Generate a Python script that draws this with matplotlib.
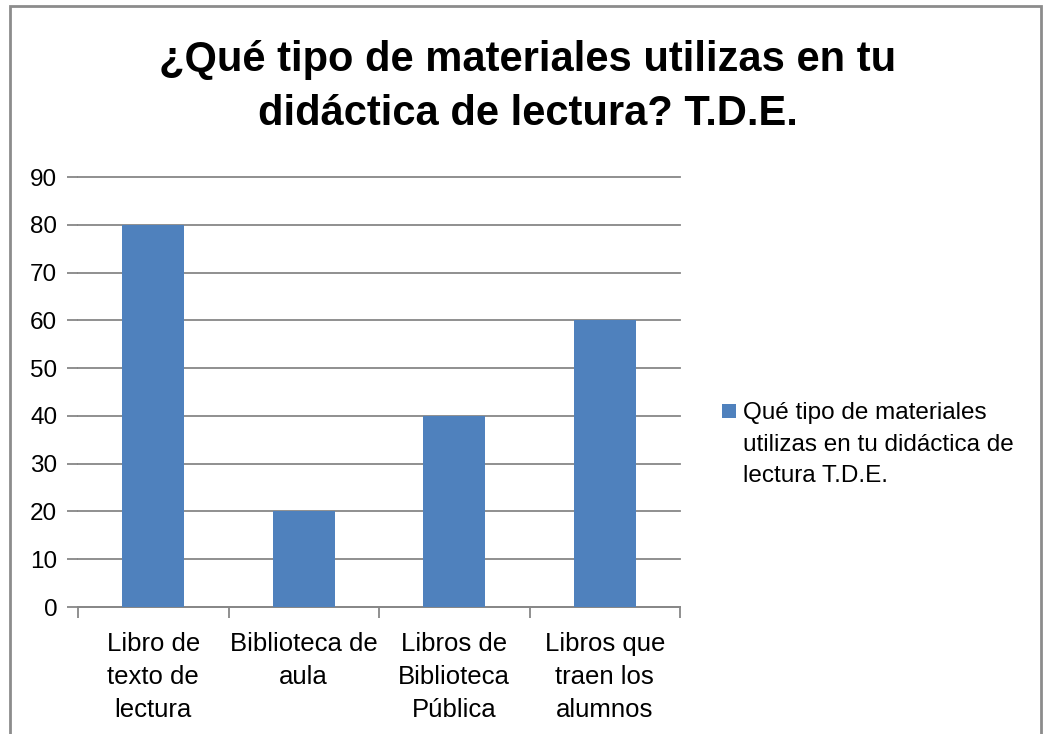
"""Bar chart: materiales usados en la didactica de lectura (T.D.E.)."""
import matplotlib
matplotlib.use("Agg")
import matplotlib.pyplot as plt
from matplotlib.patches import Rectangle

categories = ["Libro de\ntexto de\nlectura", "Biblioteca de\naula",
              "Libros de\nBiblioteca\nPública", "Libros que\ntraen los\nalumnos"]
values = [80, 20, 40, 60]
series_name = "Qué tipo de materiales\nutilizas en tu didáctica de\nlectura T.D.E."
title = "¿Qué tipo de materiales utilizas en tu\ndidáctica de lectura? T.D.E."
yticks = list(range(0, 100, 10))

_BAR, _GRID = "#4f81bd", "#878787"
W, H = 1044, 734

plt.rcParams["font.family"] = ["Liberation Sans", "DejaVu Sans"]

fig = plt.figure(figsize=(W / 100, H / 100), dpi=100, facecolor="white")
ax = fig.add_axes([78 / W, 1 - 607 / H, (680 - 78) / W, (607 - 177) / H])

x = list(range(len(categories)))
ax.bar(x, values, width=0.41, color=_BAR, zorder=3)

ax.set_xlim(-0.5, len(categories) - 0.5)
ax.set_ylim(0, 90)
ax.set_yticks(yticks)
ax.yaxis.grid(True, color=_GRID, linewidth=1.3, zorder=0)
for gl in ax.get_ygridlines():
    gl.set_clip_on(False)
ax.set_axisbelow(True)

for s in ("top", "right", "left"):
    ax.spines[s].set_visible(False)
ax.spines["bottom"].set_color(_GRID)
ax.spines["bottom"].set_linewidth(1.3)

ax.tick_params(axis="y", length=8, width=1.3, color=_GRID, labelsize=17.5, pad=7)
ax.set_xticks(x)
ax.set_xticklabels(categories, fontsize=18.5, linespacing=1.47)
ax.tick_params(axis="x", length=0, pad=18)
ax.set_xticks([i - 0.5 for i in range(len(categories) + 1)], minor=True)
ax.tick_params(axis="x", which="minor", length=8, width=1.3, color=_GRID)

fig.text(528 / W, 1 - 87 / H, title, ha="center", va="center",
         fontsize=30, fontweight="bold", linespacing=1.42)

ax.bar([0], [0], width=0, color=_BAR, label=series_name)
leg = ax.legend(loc="upper left", bbox_to_anchor=(710 / W, 1 - 390 / H),
                bbox_transform=fig.transFigure, frameon=False, fontsize=17.5,
                handlelength=0.55, handleheight=0.55, handletextpad=0.3,
                borderpad=0, labelspacing=0)
for t in leg.get_texts():
    t.set_linespacing(1.55)
# Excel puts the marker level with the first line of a wrapped entry
h = leg.legend_handles[0]
h.set_y(h.get_y() + 24)

fig.patches.append(Rectangle((10 / W, -0.01), (1041 - 10) / W, 1.01 - 6 / H,
                             transform=fig.transFigure, fill=False,
                             edgecolor="#8c8c8c", linewidth=2))

fig.savefig("out.png", dpi=100, facecolor="white")
